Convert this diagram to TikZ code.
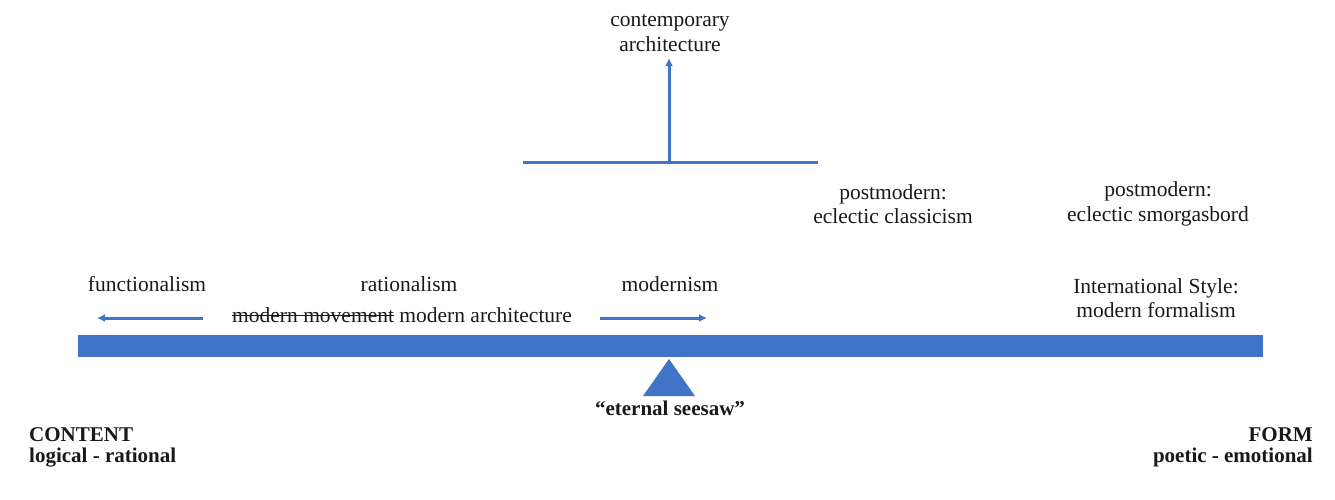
\documentclass[tikz,border=0pt]{standalone}
\usepackage{fontspec}
\setmainfont{Liberation Serif}
\usetikzlibrary{arrows.meta}
\definecolor{seeblue}{HTML}{3F74C6}
\newcommand{\mystrike}[1]{\setbox0\hbox{#1}\rlap{\raisebox{0.3em}{\rule{\wd0}{0.9pt}}}\box0\relax}
\tikzset{
  lbl/.style={inner sep=0pt, align=center, font=\fontsize{21.5}{24.5}\selectfont, text=black!90},
  blbl/.style={inner sep=0pt, font=\bfseries\fontsize{21}{21}\selectfont, text=black!90},
  blueline/.style={draw=seeblue, line width=3pt},
  arr/.style={blueline, -{Latex[length=8pt,width=8pt]}},
}
\begin{document}
\begin{tikzpicture}[x=1pt,y=-1pt]
\useasboundingbox (0,0) rectangle (1335,499);
% top T
\coordinate (tl) at (523,162);
\coordinate (tr) at (818,162);
\coordinate (tm) at (669,162);
\coordinate (tt) at (669,58);
\draw[blueline] (tl) -- (tr);
\draw[arr] (tm) -- (tt);
\node[lbl] (contemp) at (670,33) {contemporary\\architecture};
% postmodern labels
\node[lbl] (pm1) at (893,204) {postmodern:\\eclectic classicism};
\node[lbl] (pm2) at (1158,204) {postmodern:\\eclectic smorgasbord};
\node[lbl] (intl) at (1156,298) {International Style:\\modern formalism};
% row labels
\node[lbl] (func) at (147,284) {functionalism};
\node[lbl] (rat) at (409,284) {rationalism};
\node[lbl] (modm) at (670,284) {modernism};
\node[lbl, anchor=west] (mm) at (232,315) {\mystrike{modern movement} modern architecture};
% arrows
\coordinate (la) at (203,318);
\coordinate (lb) at (97,318);
\coordinate (ra) at (600,318);
\coordinate (rb) at (707,318);
\draw[arr] (la) -- (lb);
\draw[arr] (ra) -- (rb);
% beam
\fill[seeblue] (78,335) rectangle (1263,357);
% fulcrum
\fill[seeblue] (669,359) -- (695,396) -- (643,396) -- cycle;
\node[blbl] (seesaw) at (670,408) {“eternal seesaw”};
\node[blbl, anchor=west, align=left] (content) at (29,447) {CONTENT\\logical - rational};
\node[blbl, anchor=east, align=right] (form) at (1313,447) {FORM\\poetic - emotional};
\end{tikzpicture}
\end{document}
